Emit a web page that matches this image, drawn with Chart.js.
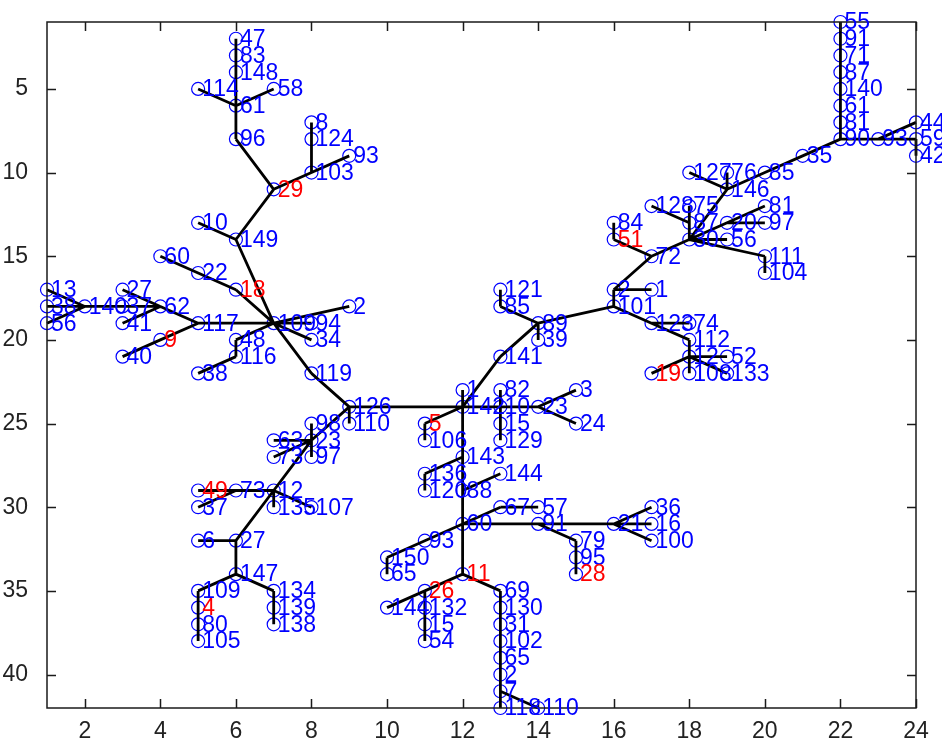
<!DOCTYPE html>
<html>
<head>
<meta charset="utf-8">
<script src="https://cdn.jsdelivr.net/npm/chart.js@4.4.0/dist/chart.umd.min.js"></script>
<style>
    html, body { margin: 0; padding: 0; background: #fff; }
    canvas { display: block; }
</style>
</head>
<body>
<canvas id="tree-chart" width="942" height="744"></canvas>
<script>
// Node labels, positions and parent index (tree edges)
const nodeLabel = [
    '47', '83', '148', '114', '58', '61', '96', '29', '8', '124',
    '103', '93', '10', '149', '60', '22', '18', '109', '117', '9',
    '40', '62', '27', '41', '37', '140', '13', '38', '56', '48',
    '116', '38', '94', '34', '2', '119', '126', '110', '23', '98',
    '63', '73', '97', '12', '73', '49', '37', '135', '107', '27',
    '6', '147', '109', '4', '80', '105', '134', '139', '138', '142',
    '141', '89', '85', '121', '39', '1', '82', '10', '15', '129',
    '23', '3', '24', '5', '106', '143', '136', '120', '88', '144',
    '60', '67', '57', '91', '79', '95', '28', '21', '36', '16',
    '100', '93', '150', '65', '11', '26', '144', '132', '15', '54',
    '69', '130', '31', '102', '65', '2', '7', '118', '110', '101',
    '2', '1', '72', '51', '84', '30', '87', '75', '128', '56',
    '20', '97', '81', '111', '104', '146', '127', '76', '85', '35',
    '90', '81', '61', '140', '87', '71', '91', '55', '93', '44',
    '59', '42', '123', '74', '112', '12', '52', '133', '19', '108'
];

const nodeX = [
    6, 6, 6, 5, 7, 6, 6, 7, 8, 8,
    8, 9, 5, 6, 4, 5, 6, 7, 5, 4,
    3, 4, 3, 3, 3, 2, 1, 1, 1, 6,
    6, 5, 8, 8, 9, 8, 9, 9, 8, 8,
    7, 7, 8, 7, 6, 5, 5, 7, 8, 6,
    5, 6, 5, 5, 5, 5, 7, 7, 7, 12,
    13, 14, 13, 13, 14, 12, 13, 13, 13, 13,
    14, 15, 15, 11, 11, 12, 11, 11, 12, 13,
    12, 13, 14, 14, 15, 15, 15, 16, 17, 17,
    17, 11, 10, 10, 12, 11, 10, 11, 11, 11,
    13, 13, 13, 13, 13, 13, 13, 13, 14, 16,
    16, 17, 17, 16, 16, 18, 18, 18, 17, 19,
    19, 20, 20, 20, 20, 19, 18, 19, 20, 21,
    22, 22, 22, 22, 22, 22, 22, 22, 23, 24,
    24, 24, 17, 18, 18, 18, 19, 19, 17, 18
];

const nodeY = [
    2, 3, 4, 5, 5, 6, 8, 11, 7, 8,
    10, 9, 13, 14, 15, 16, 17, 19, 19, 20,
    21, 18, 17, 19, 18, 18, 17, 18, 19, 20,
    21, 22, 19, 20, 18, 22, 24, 25, 26, 25,
    26, 27, 27, 29, 29, 29, 30, 30, 30, 32,
    32, 34, 35, 36, 37, 38, 35, 36, 37, 24,
    21, 19, 18, 17, 20, 23, 23, 24, 25, 26,
    24, 23, 25, 25, 26, 27, 28, 29, 29, 28,
    31, 30, 30, 31, 32, 33, 34, 31, 30, 31,
    32, 32, 33, 34, 34, 35, 36, 36, 37, 38,
    35, 36, 37, 38, 39, 40, 41, 42, 42, 18,
    17, 17, 15, 14, 13, 14, 13, 12, 12, 14,
    13, 13, 12, 15, 16, 11, 10, 10, 10, 9,
    8, 7, 6, 5, 4, 3, 2, 1, 8, 7,
    8, 9, 19, 19, 20, 21, 21, 22, 22, 22
];

const nodeParent = [
    1, 2, 5, 5, 5, 6, 7, 13, 9, 10,
    7, 10, 13, 17, 15, 16, 17, 35, 17, 18,
    19, 18, 21, 21, 21, 24, 25, 25, 25, 17,
    29, 30, 17, 17, 17, 36, 59, 36, 36, 38,
    38, 38, 38, 38, 43, 44, 44, 43, 43, 43,
    49, 49, 51, 52, 53, 54, 51, 56, 57, -1,
    59, 60, 61, 62, 61, 59, 67, 59, 67, 68,
    67, 70, 70, 59, 73, 59, 75, 76, 75, 78,
    78, 80, 81, 80, 83, 84, 85, 83, 87, 87,
    87, 80, 91, 92, 80, 94, 95, 95, 97, 98,
    94, 100, 101, 102, 103, 104, 105, 106, 106, 61,
    109, 110, 110, 112, 113, 112, 115, 116, 116, 115,
    115, 120, 115, 115, 123, 115, 125, 125, 125, 128,
    129, 130, 131, 132, 133, 134, 135, 136, 130, 138,
    138, 140, 109, 142, 142, 144, 145, 145, 145, 145
];

// nodes whose label is printed in red
const redNodes = [7, 16, 19, 45, 53, 73, 86, 94, 95, 113, 148];

const xTicks = [2, 4, 6, 8, 10, 12, 14, 16, 18, 20, 22, 24];
const yTicks = [5, 10, 15, 20, 25, 30, 35, 40];

const AXIS_FONT = '"Liberation Sans", Arial, sans-serif';

const nodePoints = nodeX.map((x, i) => ({ x: x, y: nodeY[i] }));

// one line dataset, edges separated by NaN gaps
const edgePoints = [];
nodeParent.forEach((p, i) => {
    if (p < 0) return;
    edgePoints.push({ x: nodeX[i], y: nodeY[i] });
    edgePoints.push({ x: nodeX[p], y: nodeY[p] });
    edgePoints.push({ x: NaN, y: NaN });
});

// MATLAB-like box with inward ticks on all four sides
const axesBox = {
    id: 'axesBox',
    afterDatasetsDraw(chart) {
        const { ctx, chartArea: a, scales: { x, y } } = chart;
        ctx.save();
        ctx.strokeStyle = '#1a1a1a';
        ctx.lineWidth = 1.5;
        ctx.strokeRect(a.left, a.top, a.right - a.left, a.bottom - a.top);
        ctx.beginPath();
        xTicks.forEach(v => {
            const px = Math.round(x.getPixelForValue(v)) + 0.5;
            ctx.moveTo(px, a.bottom); ctx.lineTo(px, a.bottom - 9);
            ctx.moveTo(px, a.top); ctx.lineTo(px, a.top + 9);
        });
        yTicks.forEach(v => {
            const py = Math.round(y.getPixelForValue(v)) + 0.5;
            ctx.moveTo(a.left, py); ctx.lineTo(a.left + 9, py);
            ctx.moveTo(a.right, py); ctx.lineTo(a.right - 9, py);
        });
        ctx.stroke();
        ctx.restore();
    }
};

const nodeLabels = {
    id: 'nodeLabels',
    afterDatasetsDraw(chart) {
        const { ctx, scales: { x, y } } = chart;
        ctx.save();
        ctx.font = '23px ' + AXIS_FONT;
        ctx.textBaseline = 'middle';
        nodeLabel.forEach((t, i) => {
            ctx.fillStyle = redNodes.includes(i) ? '#ff0000' : '#0000ff';
            ctx.fillText(t, x.getPixelForValue(nodeX[i]) + 4, y.getPixelForValue(nodeY[i]) + 1);
        });
        ctx.restore();
    }
};

new Chart(document.getElementById('tree-chart'), {
    type: 'scatter',
    data: {
        datasets: [
            {
                label: 'edges',
                data: edgePoints,
                showLine: true,
                spanGaps: false,
                borderColor: '#000',
                borderWidth: 2.8,
                pointRadius: 0,
                clip: false,
                order: 1
            },
            {
                label: 'nodes',
                data: nodePoints,
                pointStyle: 'circle',
                pointRadius: 6.5,
                pointBorderWidth: 1.2,
                pointBorderColor: '#0000ff',
                pointBackgroundColor: 'rgba(0,0,0,0)',
                clip: false,
                order: 2
            }
        ]
    },
    options: {
        responsive: false,
        animation: false,
        devicePixelRatio: 1,
        layout: { padding: { top: 22, right: 26, left: 0, bottom: 0 } },
        scales: {
            x: {
                type: 'linear',
                min: 1,
                max: 24,
                grid: { display: false },
                border: { display: false },
                ticks: { color: '#222', font: { size: 23, family: AXIS_FONT }, padding: 2, maxRotation: 0 },
                afterBuildTicks: s => { s.ticks = xTicks.map(v => ({ value: v })); },
                afterFit: s => { s.height = 36; s.paddingLeft = 0; s.paddingRight = 0; }
            },
            y: {
                type: 'linear',
                reverse: true,
                min: 1,
                max: 42,
                grid: { display: false },
                border: { display: false },
                ticks: { color: '#222', font: { size: 23, family: AXIS_FONT }, padding: 11 },
                afterBuildTicks: s => { s.ticks = yTicks.map(v => ({ value: v })); },
                afterFit: s => { s.width = 47; s.paddingTop = 0; s.paddingBottom = 0; }
            }
        },
        plugins: {
            legend: { display: false },
            tooltip: { enabled: false }
        }
    },
    plugins: [axesBox, nodeLabels]
});
</script>
</body>
</html>
